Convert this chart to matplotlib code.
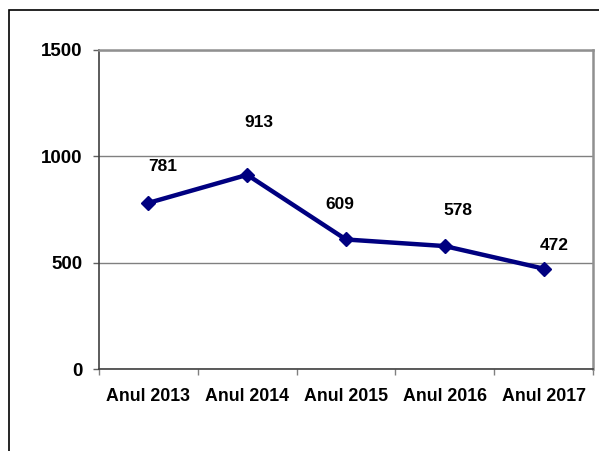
import matplotlib.pyplot as plt
import matplotlib.patches as mpatches
import matplotlib.ticker as mticker

# date
categories = ['Anul 2013', 'Anul 2014', 'Anul 2015', 'Anul 2016', 'Anul 2017']
values = [781, 913, 609, 578, 472]
y_ticks = [0, 500, 1000, 1500]

# pozitia etichetelor fata de punct (pixeli)
label_offsets = [(14, 36), (12, 52), (-6, 35), (13, 36), (11, 23)]

plt.rcParams['font.family'] = ['Liberation Sans', 'DejaVu Sans']
plt.rcParams['font.weight'] = 'bold'

fig = plt.figure(figsize=(5.99, 4.51), dpi=100)
ax = fig.add_axes([99 / 599, 82 / 451, 494 / 599, 319 / 451])

x = list(range(len(categories)))
ax.plot(x, values, color='#000080', linewidth=3.2, marker='D', markersize=7,
        markerfacecolor='#000080', markeredgecolor='#000080', zorder=3)

for xi, v, (dx, dy) in zip(x, values, label_offsets):
    ax.annotate(str(v), (xi, v), xytext=(dx, dy), textcoords='offset pixels',
                ha='center', va='center', fontsize=12.5, fontweight='bold')

ax.set_xlim(-0.5, len(categories) - 0.5)
ax.set_ylim(0, 1500)
ax.set_yticks(y_ticks)
ax.set_yticklabels([str(t) for t in y_ticks], fontsize=13.5, fontweight='bold')
ax.set_xticks(x)
ax.set_xticklabels(categories, fontsize=12.8, fontweight='bold')
ax.xaxis.set_minor_locator(mticker.FixedLocator([i - 0.5 for i in range(len(categories) + 1)]))
ax.tick_params(axis='x', which='major', length=0, pad=14)
ax.tick_params(axis='x', which='minor', length=4, width=1, color='#808080')
ax.tick_params(axis='y', length=4, width=1, color='#606060', pad=8)

ax.grid(axis='y', color='#808080', linewidth=1)
ax.set_axisbelow(True)

for side in ['top', 'right']:
    ax.spines[side].set_color('#909090')
    ax.spines[side].set_linewidth(1.8)
for side in ['left', 'bottom']:
    ax.spines[side].set_color('#404040')
    ax.spines[side].set_linewidth(1.2)

# chenarul exterior
fig.patches.append(mpatches.Rectangle((9 / 599, -0.1), 1.0, (451 - 10) / 451 + 0.1,
                                      transform=fig.transFigure, fill=False,
                                      edgecolor='black', linewidth=1.2))

plt.savefig('out.png', dpi=100)
